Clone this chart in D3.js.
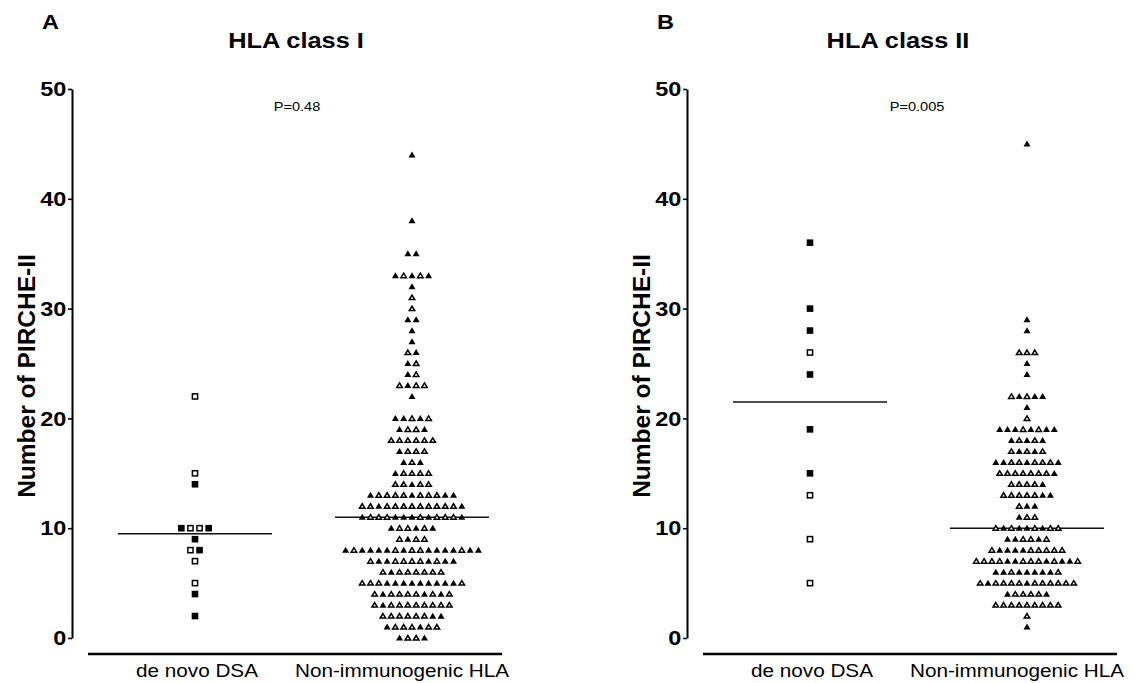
<!DOCTYPE html>
<html><head><meta charset="utf-8">
<script src="https://cdn.jsdelivr.net/npm/d3@7"></script>
<style>body{margin:0;background:#fff} text{font-family:"Liberation Sans",Arial,Helvetica,sans-serif;fill:#000}</style>
</head><body><svg id="c" width="1138" height="683"></svg>
<script>
// ---------- data ----------
const categories = ["de novo DSA", "Non-immunogenic HLA"];
const panelLetters = ["A", "B"];
const panelTitles = ["HLA class I", "HLA class II"];
const pValues = ["P=0.48", "P=0.005"];
const yTicks = [0, 10, 20, 30, 40, 50];
const yLabel = "Number of PIRCHE-II";
const medianI = [9.5, 11];
const medianII = [21.5, 10];
// rows: [value, markers left→right]  F = filled, O = open
const classI_deNovo = [[22,"O"],[15,"O"],[14,"F"],[10,"FOOF"],[9,"F"],[8,"OF"],[7,"O"],[5,"O"],[4,"F"],[2,"F"]];
const classI_nonImm = [
  [44,"F"],[38,"F"],[35,"FF"],[33,"FOFOF"],[32,"F"],[31,"O"],[30,"O"],[29,"FF"],[28,"F"],[27,"F"],
  [26,"OF"],[25,"FO"],[24,"FO"],[23,"OFOO"],[22,"F"],[20,"FFOFO"],[19,"FOOF"],[18,"OOOOOO"],
  [17,"FOOO"],[16,"FOF"],[15,"FOOOO"],[14,"OOFOO"],[13,"FOOOOFOOOFF"],[12,"OOFOOOOOOOOOF"],
  [11,"FOOOFFFOFOOOF"],[10,"FOOFOF"],[9,"OFOO"],[8,"FOFFFFOFOOFFFFOFF"],[7,"OFFOOOOFOFF"],
  [6,"OFOOOOOO"],[5,"OOOFFFFFFFFFO"],[4,"OFOOOOFOFO"],[3,"OFOOOOOOOO"],[2,"OOOOOOFF"],
  [1,"FOOOFOO"],[0,"FOOF"]
];
const classII_deNovo = [[36,"F"],[30,"F"],[28,"F"],[26,"O"],[24,"F"],[19,"F"],[15,"F"],[13,"O"],[9,"O"],[5,"O"]];
const classII_nonImm = [
  [45,"F"],[29,"F"],[28,"F"],[26,"OOO"],[25,"F"],[24,"F"],[22,"OFOFF"],[21,"F"],[20,"O"],
  [19,"FFFOFOFF"],[18,"FOFOF"],[17,"OFOFO"],[16,"FFOOFOOOF"],[15,"OOOOOOOF"],[14,"OOOOF"],
  [13,"OOOOOFF"],[12,"OFF"],[11,"FOO"],[10,"OFOFFOFOO"],[9,"FFOOFO"],[8,"OFFFFOOOOO"],
  [7,"OOOOFFOOOFOFFO"],[6,"FFOFFFFFO"],[5,"OFOOOOFOOOOOO"],[4,"FOOOOF"],[3,"OOOOOOOOO"],
  [2,"O"],[1,"F"]
];

// ---------- layout ----------
const svg = d3.select("#c");
const y = d3.scaleLinear().domain([0, 50]).range([638, 89]);
const x = d3.scalePoint().domain(categories).range([195, 412]);
const panelShift = 615;
const axisX = 72;
const SX = 1.12; // horizontal stretch of the original typography

const panels = [
  {groups: [classI_deNovo, classI_nonImm], medians: medianI, spacing: [9.1, 8.3], titleX: 296, pX: 297},
  {groups: [classII_deNovo, classII_nonImm], medians: medianII, spacing: [9.1, 7.8], titleX: 283, pX: 302}
];

function txt(g, tx, ty, s, fs, weight, anchor, sx) {
  return g.append("text")
    .attr("transform", `translate(${tx},${ty}) scale(${sx},1)`)
    .attr("text-anchor", anchor)
    .attr("font-size", fs)
    .attr("font-weight", weight)
    .text(s);
}

const triFilled = "M0,-3.4L3.5,2.6L-3.5,2.6Z";
const triOpen = "M0,-2.5L2.75,2.0L-2.75,2.0Z";

panels.forEach((p, pi) => {
  const g = svg.append("g").attr("transform", `translate(${pi * panelShift},0)`);

  // letter, title, p value
  txt(g, 42, 29, panelLetters[pi], 21, "bold", "start", SX);
  txt(g, p.titleX, 48, panelTitles[pi], 21.5, "bold", "middle", 1.18);
  txt(g, p.pX, 111, pValues[pi], 13, "normal", "middle", SX);

  // y axis
  const ax = g.append("g").attr("transform", `translate(${axisX},0)`);
  ax.call(d3.axisLeft(y).tickValues(d3.range(0, 51, 2)).tickSize(3).tickFormat("").tickSizeOuter(0));
  ax.call(d3.axisLeft(y).tickValues(yTicks).tickSize(4).tickPadding(1).tickSizeOuter(0));
  ax.selectAll("path.domain").attr("stroke", "#000").attr("stroke-width", 2);
  ax.selectAll(".tick line").attr("stroke", "#000").attr("stroke-width", 1.6);
  ax.selectAll(".tick text")
    .attr("font-size", 21).attr("font-weight", "bold")
    .attr("font-family", "Liberation Sans, Arial, sans-serif").attr("fill", "#000")
    .attr("transform", `scale(${SX},1)`);

  // y label
  g.append("text")
    .attr("transform", `translate(26,376) rotate(-90)`)
    .attr("text-anchor", "middle").attr("dominant-baseline", "central")
    .attr("font-size", 24.5).attr("font-weight", "bold")
    .text(yLabel);

  // bottom axis line and category labels
  g.append("line").attr("x1", 88).attr("x2", 502).attr("y1", 654).attr("y2", 654)
    .attr("stroke", "#000").attr("stroke-width", 2.5);
  const labelShift = [2, -10];
  categories.forEach((c, ci) => {
    txt(g, x(c) + labelShift[ci], 677, c, 18.5, "normal", "middle", SX);
  });

  // medians
  categories.forEach((c, ci) => {
    g.append("line")
      .attr("x1", x(c) - 77).attr("x2", x(c) + 77)
      .attr("y1", y(p.medians[ci])).attr("y2", y(p.medians[ci]))
      .attr("stroke", "#111").attr("stroke-width", 1.6);
  });

  // points
  p.groups.forEach((rows, ci) => {
    const pts = rows.flatMap(([v, pat]) => pat.split("").map((ch, k) => ({
      v, filled: ch === "F", off: k - (pat.length - 1) / 2
    })));
    const cx = d => x(categories[ci]) + d.off * p.spacing[ci];
    if (ci === 0) {
      g.selectAll(null).data(pts).enter().append("rect")
        .attr("x", d => cx(d) - (d.filled ? 3.3 : 2.6))
        .attr("y", d => y(d.v) - (d.filled ? 3.3 : 2.6))
        .attr("width", d => d.filled ? 6.6 : 5.2)
        .attr("height", d => d.filled ? 6.6 : 5.2)
        .attr("fill", d => d.filled ? "#000" : "#fff")
        .attr("stroke", d => d.filled ? "none" : "#000")
        .attr("stroke-width", 1.5);
    } else {
      g.selectAll(null).data(pts).enter().append("path")
        .attr("d", d => d.filled ? triFilled : triOpen)
        .attr("transform", d => `translate(${cx(d)},${y(d.v)})`)
        .attr("fill", d => d.filled ? "#000" : "#fff")
        .attr("stroke", d => d.filled ? "none" : "#000")
        .attr("stroke-width", 1.5)
        .attr("stroke-linejoin", "miter");
    }
  });
});
</script>
</body></html>
